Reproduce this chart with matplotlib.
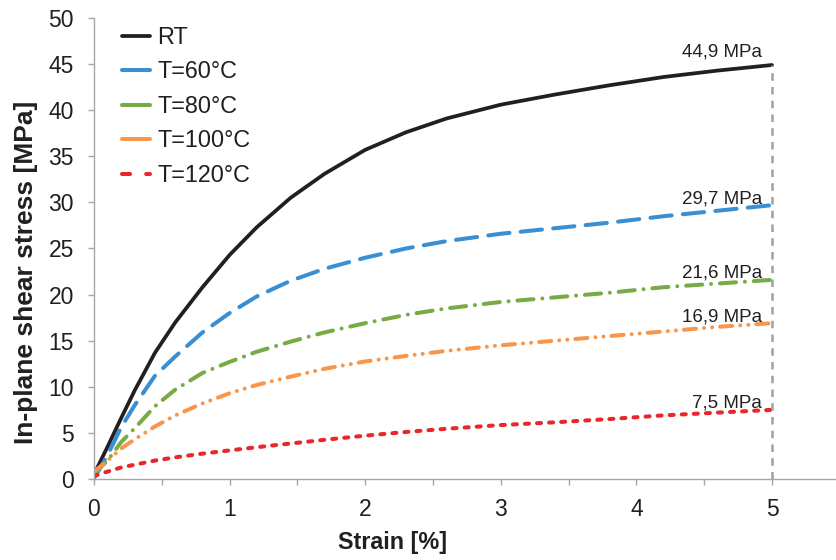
import matplotlib
matplotlib.use("Agg")
import matplotlib.pyplot as plt
from matplotlib.ticker import MultipleLocator

plt.rcParams['font.family'] = ['Liberation Sans', 'DejaVu Sans']

# shear stress-strain curves read at common strain points
strain = [0, 0.05, 0.1, 0.2, 0.3, 0.45, 0.6, 0.8, 1.0, 1.2, 1.45, 1.7, 2.0, 2.3, 2.6,
          3.0, 3.4, 3.8, 4.2, 4.6, 5.0]
stress_rt = [0.5, 2.0, 3.5, 6.6, 9.6, 13.7, 17.0, 20.8, 24.3, 27.3, 30.5, 33.1, 35.7, 37.6, 39.1,
             40.6, 41.7, 42.7, 43.6, 44.3, 44.9]
stress_60 = [0.1, 1.3, 2.6, 5.6, 8.0, 11.2, 13.3, 15.9, 18.0, 19.8, 21.5, 22.8, 24.0, 25.0, 25.8,
             26.6, 27.2, 27.8, 28.5, 29.1, 29.7]
stress_80 = [0.5, 1.3, 2.0, 4.0, 5.5, 7.9, 9.7, 11.5, 12.7, 13.8, 14.9, 15.9, 16.9, 17.8, 18.5,
             19.2, 19.7, 20.2, 20.8, 21.2, 21.6]
stress_100 = [0.8, 1.4, 2.0, 3.3, 4.3, 5.7, 6.9, 8.2, 9.3, 10.2, 11.1, 11.95, 12.75, 13.35, 13.9,
              14.5, 15.0, 15.5, 16.0, 16.5, 16.9]
stress_120 = [0.3, 0.6, 0.8, 1.25, 1.55, 2.0, 2.35, 2.75, 3.1, 3.45, 3.85, 4.25, 4.7, 5.1, 5.45,
              5.85, 6.15, 6.5, 6.9, 7.2, 7.5]

labels = ['RT', 'T=60°C', 'T=80°C', 'T=100°C', 'T=120°C']
peak_labels = ['44,9 MPa', '29,7 MPa', '21,6 MPa', '16,9 MPa', '7,5 MPa']

colors = ['#231f20', '#3a8fd2', '#77ac45', '#f7964c', '#e8262b']
styles = ['-',
          (0, (5.3, 2.8)),
          (0, (4.0, 2.2, 0.01, 2.2)),
          (0, (3.0, 2.0, 0.01, 2.0, 0.01, 2.0)),
          (0, (1.0, 2.0))]
widths = [2.7, 2.9, 2.9, 2.9, 2.9]

text_color = '#231f20'
axis_gray = '#a6a6a6'

fig = plt.figure(figsize=(8.36, 5.6), dpi=100)
ax = fig.add_axes([94 / 836, 1 - 479 / 560, 742 / 836, 461 / 560])

series = [stress_rt, stress_60, stress_80, stress_100, stress_120]
for y, lab, c, ls, lw in zip(series, labels, colors, styles, widths):
    ax.plot(strain, y, color=c, linestyle=ls, linewidth=lw, label=lab,
            dash_capstyle='round', solid_capstyle='round', solid_joinstyle='round')

# drop line at the end of the test and final stress values
ax.vlines(strain[-1], 0, stress_rt[-1], colors='#a0a0a0', linestyles=(0, (3, 2.5)), linewidth=1.8)
for y, txt in zip(series, peak_labels):
    dy = 6 if y is stress_rt else 1.5
    ax.annotate(txt, xy=(strain[-1], y[-1]), xytext=(-7, dy), textcoords='offset points',
                ha='right', va='baseline', fontsize=13.5, color=text_color)

ax.set_xlim(0, 742 / 135.6)
ax.set_ylim(0, 50)
ax.xaxis.set_major_locator(MultipleLocator(1))
ax.xaxis.set_minor_locator(MultipleLocator(0.5))
ax.yaxis.set_major_locator(MultipleLocator(5))
ax.tick_params(axis='both', which='both', direction='out', length=4.5, width=1,
               color=axis_gray, labelsize=16.5, labelcolor=text_color)
ax.tick_params(axis='x', which='both', pad=9.5)
ax.tick_params(axis='y', pad=10)

for side in ['top', 'right']:
    ax.spines[side].set_visible(False)
for side in ['left', 'bottom']:
    ax.spines[side].set_color(axis_gray)
    ax.spines[side].set_linewidth(1)

ax.set_xlabel('Strain [%]', fontsize=16.8, fontweight='bold', color=text_color, va='center')
ax.xaxis.set_label_coords((393 - 94) / 742, (479 - 543) / 461)
ax.set_ylabel('In-plane shear stress [MPa]', fontsize=19, fontweight='bold', color=text_color,
              va='center', ha='center')
ax.yaxis.set_label_coords((26 - 94) / 742, (479 - 272) / 461)

leg = ax.legend(loc='upper left', bbox_to_anchor=(122 / 836, 1 - 26 / 560),
                bbox_transform=fig.transFigure, frameon=False, fontsize=16.8,
                borderpad=0, borderaxespad=0, handlelength=1.2, handletextpad=0.3,
                labelspacing=0.49)
for i, line in enumerate(leg.get_lines()):
    if i < 4:
        line.set_linestyle('-')
    else:
        line.set_linestyle((0, (2.0, 4.0)))
for t in leg.get_texts():
    t.set_color(text_color)

plt.savefig('out.png', dpi=100)
